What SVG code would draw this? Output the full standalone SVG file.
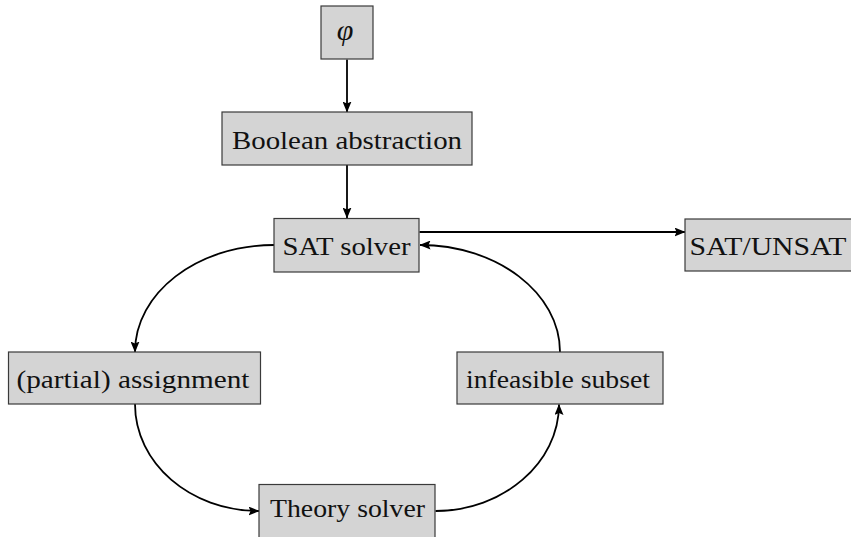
<svg xmlns="http://www.w3.org/2000/svg" width="851" height="537" viewBox="0 0 851 537">
<style>
.box{fill:#d4d4d4;stroke:#3a3a3a;stroke-width:1.2}
.lbl{font-family:"Liberation Serif","Times New Roman",serif;font-size:25px;fill:#111;text-anchor:middle}
.edge{fill:none;stroke:#000;stroke-width:1.8;marker-end:url(#ah)}
</style>
<defs>
<marker id="ah" viewBox="0 0 11 9" refX="10.5" refY="4.5" markerWidth="11" markerHeight="9" markerUnits="userSpaceOnUse" orient="auto">
<path d="M0,0 L11,4.5 L0,9 L2,4.5 Z" fill="#000"/>
</marker>
</defs>
<rect width="851" height="537" fill="#fff"/>
<g id="connectors">
<path class="edge" d="M347,59.5 L347,112"/>
<path class="edge" d="M347,165 L347,218"/>
<path class="edge" d="M419.5,232 L685,232"/>
<path class="edge" d="M274,245 C197,245 135,293 135,352"/>
<path class="edge" d="M135,404 C135,463 190,511 259,511"/>
<path class="edge" d="M435.5,511 C503,511 559,463 559,404.5"/>
<path class="edge" d="M560,352 C560,293 497,245 420,245"/>
</g>
<g id="phi">
<rect class="box" x="321" y="6" width="52" height="53"/>
<text class="lbl" x="345" y="40" style="font-style:italic;font-size:30px">φ</text>
</g>
<g id="boolean-abstraction">
<rect class="box" x="222" y="112" width="250" height="53"/>
<text class="lbl" x="347" y="148.5" textLength="230" lengthAdjust="spacingAndGlyphs">Boolean abstraction</text>
</g>
<g id="sat-solver">
<rect class="box" x="274" y="218.5" width="145" height="53.5"/>
<text class="lbl" x="346.5" y="255" textLength="128" lengthAdjust="spacingAndGlyphs">SAT solver</text>
</g>
<g id="sat-unsat">
<rect class="box" x="685" y="219" width="175" height="52"/>
<text class="lbl" x="768" y="255" textLength="157" lengthAdjust="spacingAndGlyphs">SAT/UNSAT</text>
</g>
<g id="partial-assignment">
<rect class="box" x="8.5" y="352" width="252" height="52"/>
<text class="lbl" x="133" y="388" textLength="233" lengthAdjust="spacingAndGlyphs">(partial) assignment</text>
</g>
<g id="infeasible-subset">
<rect class="box" x="457" y="352" width="206" height="52"/>
<text class="lbl" x="558" y="388" textLength="184" lengthAdjust="spacingAndGlyphs">infeasible subset</text>
</g>
<g id="theory-solver">
<rect class="box" x="259" y="484.5" width="176" height="55"/>
<text class="lbl" x="347.5" y="517" textLength="155" lengthAdjust="spacingAndGlyphs">Theory solver</text>
</g>
</svg>
